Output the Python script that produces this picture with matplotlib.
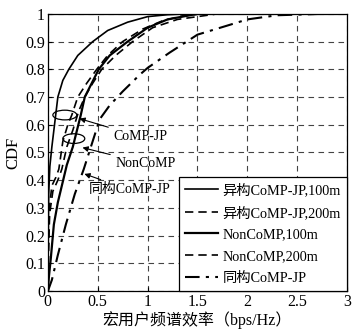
import matplotlib
matplotlib.use("Agg")
import matplotlib.pyplot as plt
from matplotlib.patches import Ellipse

plt.rcParams['font.family'] = ['Liberation Serif', 'Noto Sans CJK SC']
plt.rcParams['mathtext.fontset'] = 'stix'

# 异构CoMP-JP,100m (solid)
x_a = [0, 0.003, 0.008, 0.02, 0.04, 0.07, 0.10, 0.15, 0.21, 0.30, 0.45, 0.60, 0.80, 1.00, 1.20, 1.40]
y_a = [0, 0.15, 0.35, 0.45, 0.52, 0.61, 0.70, 0.76, 0.80, 0.85, 0.90, 0.94, 0.97, 0.99, 0.997, 1.0]
# 异构CoMP-JP,200m (dashed)
x_b = [0, 0.005, 0.015, 0.04, 0.08, 0.11, 0.15, 0.20, 0.24, 0.30, 0.39, 0.49, 0.60, 0.75, 0.95, 1.15, 1.35, 1.55]
y_b = [0, 0.15, 0.30, 0.38, 0.41, 0.44, 0.54, 0.60, 0.635, 0.70, 0.75, 0.80, 0.85, 0.90, 0.945, 0.975, 0.993, 1.0]
# NonCoMP,100m (solid)
x_c = [0, 0.01, 0.03, 0.06, 0.10, 0.19, 0.25, 0.33, 0.37, 0.44, 0.51, 0.62, 0.80, 1.00, 1.20, 1.50]
y_c = [0, 0.05, 0.12, 0.24, 0.32, 0.455, 0.52, 0.635, 0.70, 0.75, 0.80, 0.85, 0.90, 0.95, 0.98, 1.0]
# NonCoMP,200m (dashed)
x_d = [0, 0.006, 0.018, 0.05, 0.10, 0.14, 0.19, 0.25, 0.31, 0.37, 0.45, 0.54, 0.68, 0.85, 1.05, 1.30, 1.70]
y_d = [0, 0.14, 0.28, 0.36, 0.40, 0.44, 0.52, 0.58, 0.65, 0.70, 0.75, 0.80, 0.85, 0.90, 0.95, 0.98, 1.0]
# 同构CoMP-JP (dash-dot)
x_e = [0, 0.02, 0.04, 0.10, 0.18, 0.27, 0.36, 0.44, 0.52, 0.62, 0.75, 0.92, 1.00, 1.22, 1.50, 1.82, 2.00, 2.30, 2.75]
y_e = [0, 0.02, 0.04, 0.13, 0.24, 0.35, 0.44, 0.53, 0.62, 0.67, 0.72, 0.78, 0.805, 0.86, 0.925, 0.96, 0.98, 0.995, 1.0]

labels = ['异构CoMP-JP,100m', '异构CoMP-JP,200m', 'NonCoMP,100m', 'NonCoMP,200m', '同构CoMP-JP']
xticks = [0, 0.5, 1, 1.5, 2, 2.5, 3]
xtick_labels = ['0', '0.5', '1', '1.5', '2', '2.5', '3']
yticks = [0, 0.1, 0.2, 0.3, 0.4, 0.5, 0.6, 0.7, 0.8, 0.9, 1]
ytick_labels = ['0', '0.1', '0.2', '0.3', '0.4', '0.5', '0.6', '0.7', '0.8', '0.9', '1']

fig = plt.figure(figsize=(3.52, 3.30), dpi=100)
ax = fig.add_axes([0.136, 0.118, 0.850, 0.840])

lw = 1.2
ax.plot(x_a, y_a, color='black', lw=lw, ls='-', label=labels[0])
ax.plot(x_b, y_b, color='black', lw=lw, ls=(0, (5, 3)), label=labels[1])
ax.plot(x_c, y_c, color='black', lw=lw + 0.4, ls='-', label=labels[2])
ax.plot(x_d, y_d, color='black', lw=lw, ls=(0, (5, 3)), label=labels[3])
ax.plot(x_e, y_e, color='black', lw=lw + 0.3, ls=(0, (7, 3, 1.5, 3)), label=labels[4])

ax.set_xlim(0, 3)
ax.set_ylim(0, 1)
ax.set_xticks(xticks)
ax.set_xticklabels(xtick_labels)
ax.set_yticks(yticks)
ax.set_yticklabels(ytick_labels)
ax.tick_params(direction='in', labelsize=11.5, length=3, pad=2)
ax.grid(True, color='#444444', ls=(0, (5, 4)), lw=0.8)
for s in ax.spines.values():
    s.set_linewidth(0.9)

ax.set_ylabel('CDF', fontsize=12, labelpad=3)
ax.set_xlabel('宏用户频谱效率（bps/Hz）', fontsize=11.5, labelpad=1)

# ellipses and annotations
ax.add_patch(Ellipse((0.17, 0.635), 0.24, 0.035, fill=False, color='black', lw=0.9))
ax.add_patch(Ellipse((0.26, 0.55), 0.22, 0.035, fill=False, color='black', lw=0.9))
aprops = dict(arrowstyle='-|>', color='black', lw=0.8, mutation_scale=8)
ax.annotate('CoMP-JP', xy=(0.29, 0.625), xytext=(0.66, 0.556), fontsize=10,
            va='center', ha='left', arrowprops=aprops)
ax.annotate('NonCoMP', xy=(0.32, 0.52), xytext=(0.68, 0.46), fontsize=10,
            va='center', ha='left', arrowprops=aprops)
ax.annotate('同构CoMP-JP', xy=(0.34, 0.426), xytext=(0.41, 0.365), fontsize=10,
            va='center', ha='left', arrowprops=aprops)

leg = ax.legend(loc='lower right', fontsize=10.3, frameon=True, fancybox=False,
                edgecolor='black', framealpha=1, handlelength=2.3, handletextpad=0.3,
                borderaxespad=0.0, labelspacing=0.6, borderpad=0.45)
leg.get_frame().set_linewidth(0.9)

fig.savefig('out.png', dpi=100)
